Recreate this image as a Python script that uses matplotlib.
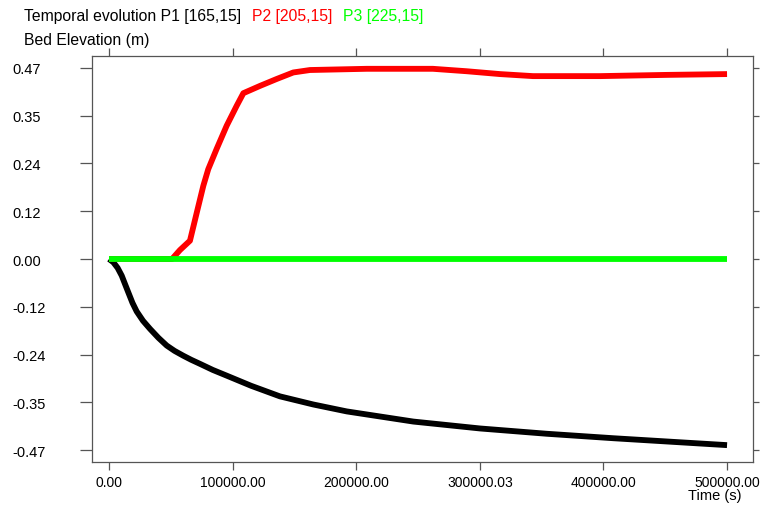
import matplotlib
matplotlib.use("Agg")
import matplotlib.pyplot as plt

# P1 [165,15] - black, erosion
p1_t = [0, 3500, 7000, 10300, 13000, 15600, 19000, 22400, 27500, 33200, 40000, 46700,
        53000, 60100, 66500, 73600, 84000, 95200, 115000,
        138300, 165300, 192300, 246200, 300200, 354100, 408000, 462000, 500000]
p1_z = [0.0, -0.008, -0.022, -0.041, -0.062, -0.082, -0.108, -0.129, -0.152, -0.172, -0.194, -0.213,
        -0.226, -0.238, -0.248, -0.258, -0.273, -0.287, -0.312,
        -0.338, -0.358, -0.375, -0.400, -0.417, -0.430, -0.441, -0.451, -0.458]

# P2 [205,15] - red, deposition
p2_t = [0, 51000, 57400, 65500, 71000, 76300, 80300, 87100, 95200, 103300, 108700,
        122200, 135700, 149100, 162600, 208500, 262000, 289400, 316300, 343000,
        397200, 451200, 500000]
p2_z = [0.0, 0.0, 0.022, 0.045, 0.114, 0.180, 0.221, 0.271, 0.328, 0.377, 0.408,
        0.426, 0.443, 0.459, 0.465, 0.468, 0.468, 0.462, 0.455, 0.450,
        0.450, 0.453, 0.455]

# P3 [225,15] - green, unchanged
p3_t = [0, 500000]
p3_z = [0.0, 0.0]

x_ticks = [0, 100000, 200000, 300000, 400000, 500000]
x_labels = ["0.00", "100000.00", "200000.00", "300000.03", "400000.00", "500000.00"]
y_ticks = [0.47, 0.3525, 0.235, 0.1175, 0.0, -0.1175, -0.235, -0.3525, -0.47]
y_labels = ["0.47", "0.35", "0.24", "0.12", "0.00", "-0.12", "-0.24", "-0.35", "-0.47"]

plt.rcParams["font.family"] = ["Liberation Sans", "DejaVu Sans"]
plt.rcParams["font.size"] = 10

fig = plt.figure(figsize=(7.62, 5.06), dpi=100)
ax = fig.add_axes([92 / 762, 1 - 463 / 506, (753 - 92) / 762, (463 - 57) / 506])

lw = 4.2
ax.plot(p1_t, p1_z, color="black", linewidth=lw, solid_capstyle="butt", solid_joinstyle="round")
ax.plot(p2_t, p2_z, color="#ff0000", linewidth=lw, solid_capstyle="butt", solid_joinstyle="round")
ax.plot(p3_t, p3_z, color="#00ff00", linewidth=lw, solid_capstyle="butt")

ax.set_xlim(-13750, 521000)
ax.set_ylim(-0.4995, 0.4995)

ax.set_xticks(x_ticks)
ax.set_xticklabels(x_labels)
ax.set_yticks(y_ticks)
ax.set_yticklabels(y_labels, ha="left", fontsize=10.5)

for s in ax.spines.values():
    s.set_color("#555555")
    s.set_linewidth(0.9)

ax.tick_params(axis="x", which="both", direction="out", length=5.5, width=0.9,
               color="#555555", top=True, bottom=True, pad=4)
ax.tick_params(axis="y", which="both", direction="out", width=0.9,
               color="#555555", left=True, right=True)
ax.tick_params(axis="y", which="both", length=9, pad=48)
for t in ax.yaxis.get_major_ticks():
    t.tick2line.set_markersize(4)

# titles
title_fs = 11.3
fig.text(24 / 762, 1 - 17 / 506, "Temporal evolution P1 [165,15]", color="black",
         va="center", ha="left", fontsize=title_fs)
fig.text(252 / 762, 1 - 17 / 506, "P2 [205,15]", color="#ff0000",
         va="center", ha="left", fontsize=title_fs)
fig.text(343 / 762, 1 - 17 / 506, "P3 [225,15]", color="#00ff00",
         va="center", ha="left", fontsize=title_fs)
fig.text(24 / 762, 1 - 41 / 506, "Bed Elevation (m)", color="black",
         va="center", ha="left", fontsize=title_fs)
fig.text(742 / 762, 1 - 496 / 506, "Time (s)", color="black",
         va="center", ha="right", fontsize=10.5)

fig.savefig("out.png", dpi=100)
